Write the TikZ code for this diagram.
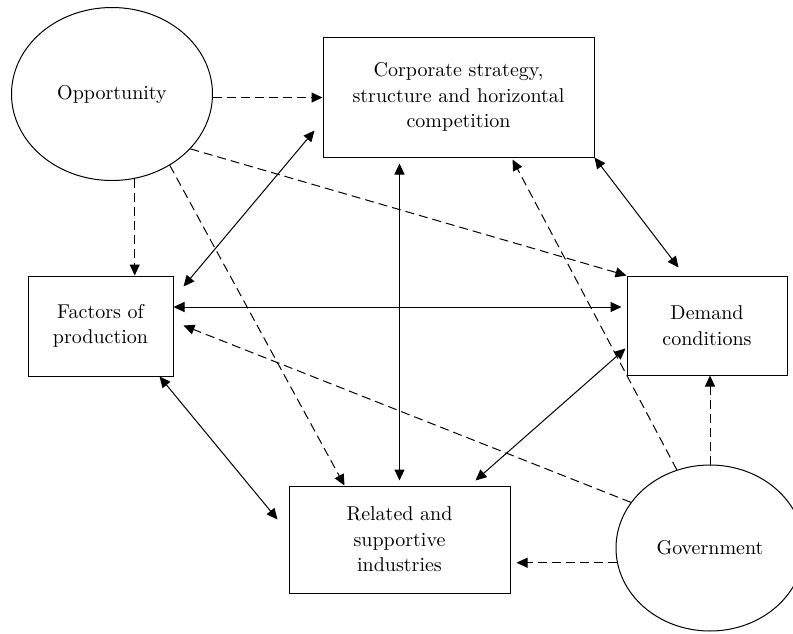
\documentclass[tikz,border=0pt]{standalone}
\usetikzlibrary{arrows.meta,shapes.geometric}

\tikzstyle{box}=[draw, line width=0.5pt, align=center, inner sep=0pt, font=\fontsize{10}{12.75}\selectfont]
\tikzstyle{force}=[draw, ellipse, line width=0.5pt, align=center, inner sep=0pt, font=\fontsize{10}{12.75}\selectfont]
\tikzstyle{arrow}=[line width=0.5pt, {Triangle[length=5.5pt,width=5pt]}-{Triangle[length=5.5pt,width=5pt]}]
\tikzstyle{influence}=[line width=0.5pt, dash pattern=on 4.5pt off 2.5pt, -{Triangle[length=5.5pt,width=5pt]}]

\begin{document}
\begin{tikzpicture}[x=0.5pt, y=-0.5pt]
      \useasboundingbox (0,0) rectangle (793,633);

      \node[force, minimum width=100.5pt, minimum height=86.5pt] (opp) at (112, 94) {Opportunity};
      \node[force, minimum width=94pt, minimum height=83pt] (gov) at (710, 548) {Government};
      \node[box, minimum width=135.5pt, minimum height=60pt] (corp) at (458.5, 97) {Corporate strategy,\\structure and horizontal\\competition};
      \node[box, minimum width=72.5pt, minimum height=50pt] (fac) at (100.5, 326) {Factors of\\production};
      \node[box, minimum width=80pt, minimum height=49.5pt] (dem) at (707, 325.5) {Demand\\conditions};
      \node[box, minimum width=110.5pt, minimum height=53.5pt] (rel) at (399.5, 539.5) {Related and\\supportive\\industries};

      % the four determinants
      \draw[arrow] ([shift={(10,11)}]fac.north east) to ([shift={(-8,-27)}]corp.south west);
      \draw[arrow, shorten >=2.5pt] ([yshift=9.5pt]fac.east) to ([yshift=9.5pt]fac.east -| dem.west);
      \draw[arrow, shorten <=3pt, shorten >=2.5pt] (rel.north |- corp.south) to (rel.north);
      \draw[arrow] (corp.south east) to ([shift={(52,-8)}]dem.north west);
      \draw[arrow] ([shift={(-14,0)}]fac.south east) to ([shift={(-11,34)}]rel.north west);
      \draw[arrow] ([shift={(-35,-5)}]rel.north east) to ([shift={(-1,-27)}]dem.south west);

      % chance and government
      \draw[influence] (opp.-2) to (opp.-2 -| corp.west);
      \draw[influence] (opp.-75) to (opp.-75 |- fac.north);
      \draw[influence] (opp.-51) to ([xshift=28pt]rel.north west);
      \draw[influence] (opp.-35) to (dem.north west);
      \draw[influence] (gov.113) to ([shift={(-82,2)}]corp.south east);
      \draw[influence] (gov.150) to ([shift={(10,-51)}]fac.south east);
      \draw[influence] (gov.north) to (gov.north |- dem.south);
      \draw[influence, shorten >=3pt] (gov.189) to (gov.189 -| rel.east);
    \end{tikzpicture}
\end{document}
